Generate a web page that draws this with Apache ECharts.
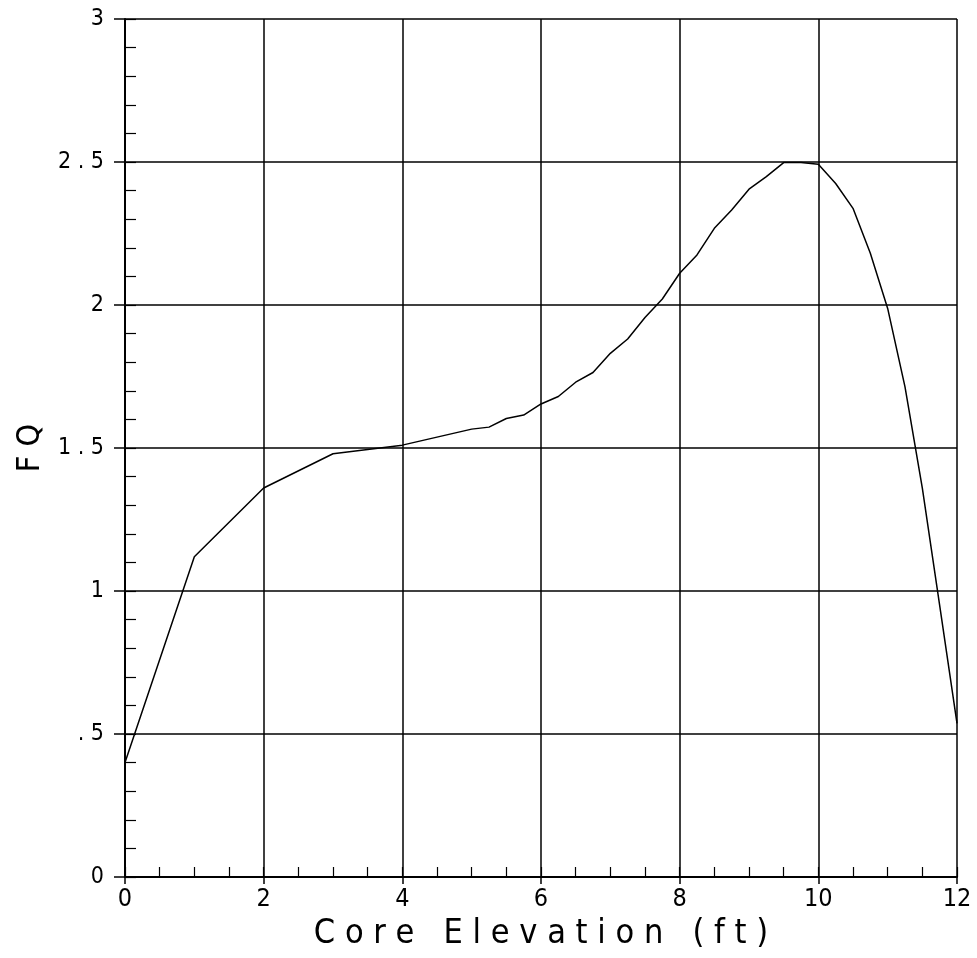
<!DOCTYPE html>
<html>
<head>
<meta charset="utf-8">
<script src="https://cdn.jsdelivr.net/npm/echarts@6/dist/echarts.min.js"></script>
<style>html,body{margin:0;padding:0;background:#fff}#c{width:977px;height:958px}</style>
</head>
<body>
<div id="c"></div>
<script>
const elevation = [0, 1, 2, 3, 4, 5, 5.25, 5.5, 5.75, 6, 6.25, 6.5, 6.75, 7, 7.25, 7.5, 7.75, 8, 8.25, 8.5, 8.75, 9, 9.25, 9.5, 9.75, 10, 10.25, 10.5, 10.75, 11, 11.25, 11.5, 11.75, 12];
const fq = [0.40, 1.12, 1.36, 1.48, 1.51, 1.566, 1.573, 1.603, 1.615, 1.654, 1.680, 1.730, 1.764, 1.831, 1.881, 1.956, 2.021, 2.111, 2.175, 2.268, 2.332, 2.405, 2.449, 2.498, 2.498, 2.492, 2.425, 2.338, 2.181, 1.988, 1.714, 1.36, 0.95, 0.537];
const yTickLabels = {"0": "0", "0.5": ". 5", "1": "1", "1.5": "1 . 5", "2": "2", "2.5": "2 . 5", "3": "3"};
const xTitle = "C o r e   E l e v a t i o n   ( f t )";
const yTitle = "F Q";

const FONT = "'Liberation Sans Narrow', 'DejaVu Sans Condensed', 'Liberation Sans', sans-serif";
const chart = echarts.init(document.getElementById('c'), null, {renderer: 'canvas'});
const data = elevation.map((x, i) => [x, fq[i]]);
chart.setOption({
  animation: false,
  backgroundColor: '#fff',
  grid: {left: 125, right: 20, top: 19, bottom: 81, containLabel: false},
  xAxis: [{
    type: 'value', min: 0, max: 12, interval: 2, position: 'bottom',
    name: xTitle, nameLocation: 'middle', nameGap: 38,
    nameTextStyle: {fontFamily: FONT, fontSize: 34, fontWeight: 'lighter', color: '#000'},
    axisLine: {show: true, onZero: false, lineStyle: {color: '#000', width: 2}},
    axisTick: {show: true, inside: false, length: 7, lineStyle: {color: '#000', width: 1.5}},
    axisLabel: {fontFamily: FONT, fontSize: 25, fontWeight: 'lighter', color: '#000', margin: 10},
    splitLine: {show: true, lineStyle: {color: '#000', width: 1.5}}
  }, {
    type: 'value', min: 0, max: 12, interval: 0.5, position: 'bottom',
    axisLine: {show: false},
    axisTick: {show: true, inside: true, length: 10, lineStyle: {color: '#000', width: 1.2}},
    axisLabel: {show: false}, splitLine: {show: false}
  }],
  yAxis: [{
    type: 'value', min: 0, max: 3, interval: 0.5, position: 'left',
    name: yTitle, nameLocation: 'middle', nameGap: 78, nameRotate: 90,
    nameTextStyle: {fontFamily: FONT, fontSize: 32, fontWeight: 'lighter', color: '#000'},
    axisLine: {show: true, onZero: false, lineStyle: {color: '#000', width: 2}},
    axisTick: {show: true, inside: false, length: 11, lineStyle: {color: '#000', width: 1.5}},
    axisLabel: {fontFamily: FONT, fontSize: 23, fontWeight: 'lighter', color: '#000', margin: 21,
      formatter: v => yTickLabels[String(v)] !== undefined ? yTickLabels[String(v)] : String(v)},
    splitLine: {show: true, lineStyle: {color: '#000', width: 1.5}}
  }, {
    type: 'value', min: 0, max: 3, interval: 0.1, position: 'left',
    axisLine: {show: false},
    axisTick: {show: true, inside: true, length: 11, lineStyle: {color: '#000', width: 1.2}},
    axisLabel: {show: false}, splitLine: {show: false}
  }],
  series: [{
    type: 'line', data: data, xAxisIndex: 0, yAxisIndex: 0,
    symbol: 'none', smooth: false,
    lineStyle: {color: '#000', width: 1.5}
  }]
});
</script>
</body>
</html>
